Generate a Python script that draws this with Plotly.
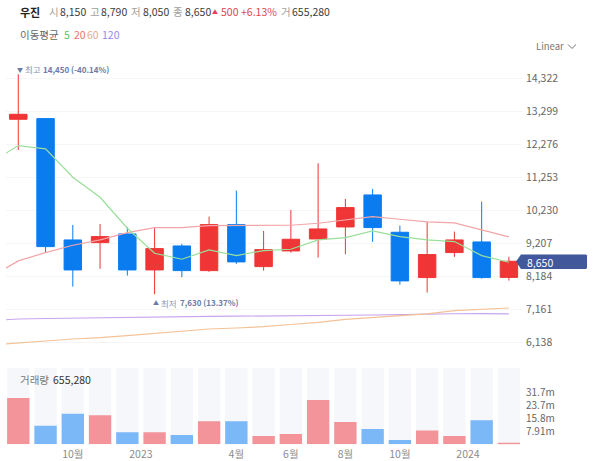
import plotly.graph_objects as go

W = 600
H = 461
FONT = "Noto Sans CJK KR"

# candles, one per period
idx = list(range(1, 20))
opens = [13051, 13072, 9311, 9228, 9497, 8381, 9125, 8360, 9786, 8484, 8970, 9342, 9714, 10706, 9549, 8144, 8919, 9249, 8150]
closes = [13206, 9104, 8381, 9414, 8381, 9042, 8360, 9786, 8630, 9011, 9332, 9652, 10314, 9694, 8041, 8857, 9311, 8144, 8650]
highs = [14450, 13093, 9776, 9807, 9704, 9673, 9187, 10034, 10840, 9590, 10241, 11688, 10582, 10892, 9756, 9869, 9570, 10500, 8790]
lows = [12100, 8918, 7864, 8413, 8206, 7630, 8155, 8320, 8568, 8361, 8919, 8763, 8868, 9250, 7927, 7680, 8785, 8113, 8050]

# moving averages, first point is the period before the visible range
ma_idx = list(range(0, 20))
ma5 = [11719, 12235, 12132, 11254, 10634, 9673, 8899, 8713, 9002, 8826, 8981, 9022, 9312, 9384, 9591, 9415, 9312, 9260, 8826, 8620]
ma20 = [8176, 8661, 8919, 9147, 9312, 9539, 9694, 9694, 9756, 9756, 9756, 9766, 9828, 9932, 10035, 9952, 9870, 9839, 9622, 9405]
ma60 = [6054, 6107, 6178, 6240, 6280, 6345, 6417, 6488, 6550, 6581, 6622, 6690, 6758, 6851, 6913, 6963, 7016, 7118, 7149, 7201]
ma120 = [6808, 6860, 6876, 6891, 6900, 6913, 6932, 6938, 6944, 6947, 6950, 6953, 6956, 6965, 6984, 6997, 7016, 7022, 7025, 7016]

# volume in millions
volume = [28.6, 11.5, 18.9, 17.9, 7.4, 7.4, 5.8, 14.2, 14.2, 5.1, 6.4, 27.4, 13.8, 9.4, 2.7, 8.5, 5.1, 14.8, 0.8]
vol_max = 47.3

price_ticks = [14322, 13299, 12276, 11253, 10230, 9207, 8184, 7161, 6138]
vol_ticks = [7.91, 15.8, 23.7, 31.7]
vol_tick_text = ["7.91m", "15.8m", "23.7m", "31.7m"]
x_ticks = [3, 5.5, 9, 11, 13, 15, 17.5]
x_tick_text = ["10월", "2023", "4월", "6월", "8월", "10월", "2024"]

RED = "#ef3535"
BLUE = "#0a7cf0"
RED_SOFT = "#f29499"
BLUE_SOFT = "#7ab8f7"

fig = go.Figure()

vol_colors = [RED_SOFT if c >= o else BLUE_SOFT for o, c in zip(opens, closes)]
fig.add_trace(go.Bar(x=idx, y=[vol_max] * len(idx), yaxis="y2", width=0.82, marker_color="#f5f7fa", marker_line_width=0))
fig.add_trace(go.Bar(x=idx, y=volume, yaxis="y2", width=0.82, marker_color=vol_colors, marker_line_width=0))

fig.add_trace(go.Candlestick(
    x=idx, open=opens, high=highs, low=lows, close=closes, whiskerwidth=0,
    increasing=dict(fillcolor=RED, line=dict(color=RED, width=1)),
    decreasing=dict(fillcolor=BLUE, line=dict(color=BLUE, width=1)),
))

for vals, col in [(ma120, "#c9a5ee"), (ma60, "#f4c296"), (ma20, "#f2a5a8"), (ma5, "#9adf9a")]:
    fig.add_trace(go.Scatter(x=ma_idx, y=vals, mode="lines", line=dict(color=col, width=1.2)))


def label(x, y, text, color="#333333", size=11, weight=None):
    if weight:
        text = "<b>" + text + "</b>"
    fig.add_annotation(xref="paper", yref="paper", x=x / W, y=1 - y / H, text=text, showarrow=False,
                       xanchor="left", yanchor="middle", xshift=-1, font=dict(family=FONT, size=size, color=color))


GRAY = "#a0a0a0"
DARK = "#3c3c3c"
# header row
label(19, 11.5, "우진", "#222222", 11, True)
for x, t, c in [(48, "시", GRAY), (58.5, "8,150", DARK), (89, "고", GRAY), (100, "8,790", DARK),
                (130, "저", GRAY), (142, "8,050", DARK), (172, "종", GRAY), (184, "8,650", DARK),
                (220, "500", "#e0454f"), (240, "+6.13%", "#e0454f"), (280, "거", GRAY), (291, "655,280", DARK)]:
    label(x, 11.5, t, c, 10.5)
label(211, 11.5, "▲", "#e0454f", 6)

label(19, 35, "이동평균", "#666666", 10.5)
for x, t, c in [(63, "5", "#5cc46a"), (72.5, "20", "#ee7070"), (86, "60", "#eeaa80"), (101, "120", "#9a8ae8")]:
    label(x, 35, t, c, 10.5)

# high and low markers
label(16, 69, "▼", "#6b7ba8", 6)
label(23.5, 69, "최고", "#8a94b4", 8.5)
label(42, 69, "14,450 (-40.14%)", "#6b7ba8", 8, True)
label(152, 302.5, "▲", "#6b7ba8", 6)
label(160, 302.5, "최저", "#8a94b4", 8.5)
label(178.5, 302.5, "7,630 (13.37%)", "#6b7ba8", 8, True)

label(19, 379, "거래량", "#777777", 10.5)
label(52, 379, "655,280", "#333333", 10.5)

label(535, 46, "Linear", "#777777", 9.5)
label(526, 262, "8,650", "#ffffff", 10.5)


def px(x, y):
    return f"{x / W:.4f} {1 - y / H:.4f}"


shapes = [
    # current price tag
    dict(type="path", xref="paper", yref="paper", fillcolor="#41599b", line_width=0, layer="above",
         path="M" + px(516, 261.5) + " L" + px(521, 254.5) + " L" + px(586, 254.5) + " L" + px(587, 255.5)
              + " L" + px(587, 268) + " L" + px(586, 269) + " L" + px(521, 269) + " Z"),
    # dropdown chevron
    dict(type="path", xref="paper", yref="paper", line=dict(color="#777777", width=1),
         path="M" + px(568, 44.5) + " L" + px(572, 48.5) + " L" + px(576, 44.5)),
]

fig.update_layout(
    width=W, height=H, margin=dict(l=0, r=0, t=0, b=0), autosize=False,
    paper_bgcolor="white", plot_bgcolor="white", showlegend=False,
    barmode="overlay", boxgap=0.36, boxgroupgap=0, shapes=shapes,
    font=dict(family=FONT, size=11, color="#666666"),
    xaxis=dict(domain=[6 / W, 522 / W], range=[0.549, 19.48], anchor="y2", tickmode="array",
               tickvals=x_ticks, ticktext=x_tick_text, showgrid=False, zeroline=False, showline=False, ticks="",
               ticklabelstandoff=2, tickfont=dict(family=FONT, size=10.5, color="#8c8c8c"),
               rangeslider=dict(visible=False)),
    yaxis=dict(domain=[1 - 350 / H, 1 - 62 / H], range=[5899, 14827], side="right", tickmode="array",
               tickvals=price_ticks, ticktext=[f"{v:,}" for v in price_ticks], gridcolor="#f6f6f6", gridwidth=1,
               zeroline=False, showline=False, ticks="", ticklabelstandoff=3,
               tickfont=dict(family=FONT, size=10.5, color="#666666"), anchor="x"),
    yaxis2=dict(domain=[1 - 444.3 / H, 1 - 367.7 / H], range=[0, vol_max], side="right", tickmode="array",
                tickvals=vol_ticks, ticktext=vol_tick_text, showgrid=False, zeroline=False, showline=False,
                ticks="", ticklabelstandoff=3, tickfont=dict(family=FONT, size=10, color="#666666"), anchor="x"),
)

# page has a default body margin that would push the figure off the window
fig.write_html("out.html", config=dict(displayModeBar=False), post_script="document.body.style.margin='0';")
